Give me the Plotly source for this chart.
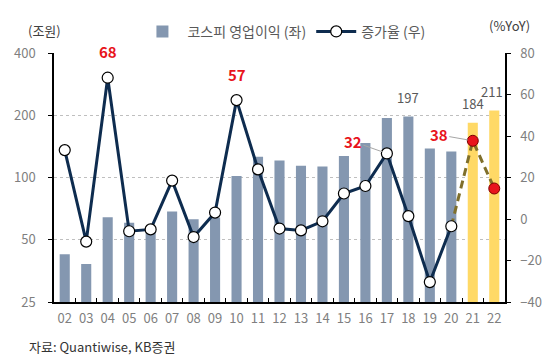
import math
import plotly.graph_objects as go

years = ["02","03","04","05","06","07","08","09","10","11","12","13","14","15","16","17","18","19","20","21","22"]
op_profit = [42.5, 38.2, 64.3, 60.5, 55, 68.4, 62.8, 64, 101.8, 126, 120.7, 114, 113, 127, 147, 194, 197, 138, 133.5, 184, 211]
growth = [33.2, -10.9, 68.1, -5.9, -5.0, 18.5, -8.7, 3.1, 57.3, 23.9, -4.6, -5.5, -1.1, 12.3, 15.9, 31.6, 1.4, -30.4, -3.5, 37.7, 14.7]
actual_n = 19  # 02-20 actual, 21-22 forecast
left_ticks = [25, 50, 100, 200, 400]
right_ticks = [-40, -20, 0, 20, 40, 60, 80]

BAR = "#8497B0"
YEL = "#FFD966"
NAVY = "#0E2C4F"
OLIVE = "#7F6F2B"
RED = "#E8141C"
FONT = "Noto Sans CJK KR"

bar_colors = [BAR] * actual_n + [YEL] * (len(years) - actual_n)

fig = go.Figure()
fig.add_trace(go.Bar(
    x=years, y=op_profit, marker=dict(color=bar_colors, line=dict(width=0)),
    name="코스피 영업이익 (좌)", yaxis="y", showlegend=True))
fig.add_trace(go.Scatter(
    x=years[actual_n - 1:], y=growth[actual_n - 1:], yaxis="y2", mode="lines",
    line=dict(color=OLIVE, width=3, dash="8px,5px"), showlegend=False, hoverinfo="skip"))
fig.add_trace(go.Scatter(
    x=years[:actual_n], y=growth[:actual_n], yaxis="y2", mode="lines+markers",
    line=dict(color=NAVY, width=3),
    marker=dict(size=11, color="white", line=dict(color="black", width=1.2)),
    name="증가율 (우)"))
fig.add_trace(go.Scatter(
    x=years[actual_n:], y=growth[actual_n:], yaxis="y2", mode="markers",
    marker=dict(size=11, color=RED, line=dict(color="#7A0000", width=1)),
    showlegend=False))

# red value labels (x given as category index)
for i, sh in [(2, 26), (8, 26)]:
    fig.add_annotation(x=i, y=growth[i], xref="x", yref="y2", text=f"<b>{round(growth[i])}</b>",
                       showarrow=False, yshift=sh, font=dict(color=RED, size=15, family=FONT))
for i, axo, ayo in [(15, -34, -12), (19, -34, -6)]:
    fig.add_annotation(x=i, y=growth[i], xref="x", yref="y2", text=f"<b>{round(growth[i])}</b>",
                       showarrow=True, arrowhead=0, arrowcolor="#A6A6A6", arrowwidth=1,
                       ax=axo, ay=ayo, standoff=5,
                       font=dict(color=RED, size=15, family=FONT))
# bar value labels (log axis: annotation y in log10 units)
for i, dx in [(16, 0), (19, 0), (20, -2)]:
    fig.add_annotation(x=i, y=math.log10(op_profit[i]), xref="x", yref="y",
                       text=str(round(op_profit[i])),
                       showarrow=False, yshift=19, xshift=dx,
                       font=dict(color="#595959", size=13, family=FONT))

fig.add_annotation(xref="paper", yref="paper", x=-0.022, xanchor="center",
                   y=1.092, yanchor="middle", text="(조원)", showarrow=False,
                   font=dict(color="#404040", size=13, family=FONT))
fig.add_annotation(xref="paper", yref="paper", x=1.009, xanchor="center",
                   y=1.112, yanchor="middle", text="(%YoY)", showarrow=False,
                   font=dict(color="#404040", size=13, family=FONT))
fig.add_annotation(xref="paper", yref="paper", x=-0.06, xanchor="left", y=-0.18, yanchor="middle",
                   text="자료: Quantiwise, KB증권", showarrow=False,
                   font=dict(color="#333333", size=13, family=FONT))

fig.update_layout(
    width=558, height=363,
    margin=dict(l=54, r=53, t=53, b=61, autoexpand=False),
    paper_bgcolor="white", plot_bgcolor="white",
    font=dict(family=FONT, color="#7F7F7F", size=13),
    bargap=0.53,
    legend=dict(orientation="h", x=0.185, xanchor="left", y=1.085, yanchor="middle",
                font=dict(size=14, color="#595959", family=FONT), bgcolor="rgba(0,0,0,0)",
                itemwidth=40, tracegroupgap=0),
    xaxis=dict(type="category", range=[-0.5, len(years) - 0.5], showline=True,
               linecolor="black", linewidth=1.5,
               ticks="inside", tickson="boundaries", ticklen=4, tickcolor="black",
               tickangle=0, automargin=False,
               tickfont=dict(size=13, color="#7F7F7F"), showgrid=False, zeroline=False,
               ticklabelstandoff=4),
    yaxis=dict(type="log", range=[1.39794, 2.60206], tickvals=left_ticks,
               ticktext=[str(v) for v in left_ticks], showline=True, linecolor="black",
               linewidth=1.5, ticks="outside", ticklen=4, tickcolor="black", automargin=False,
               showgrid=True, gridcolor="#BFBFBF", griddash="dot", gridwidth=1,
               zeroline=False, tickfont=dict(size=13, color="#7F7F7F"), ticklabelstandoff=10),
    yaxis2=dict(overlaying="y", side="right", range=[-40, 80], tickvals=right_ticks,
                showline=True, linecolor="black", linewidth=1.5, ticks="outside", ticklen=4,
                tickcolor="black", showgrid=False, zeroline=False, automargin=False,
                tickfont=dict(size=13, color="#7F7F7F"), ticklabelstandoff=7),
)

fig.write_html("out.html", post_script="document.body.style.margin='0px';",
               config={"displayModeBar": False})
